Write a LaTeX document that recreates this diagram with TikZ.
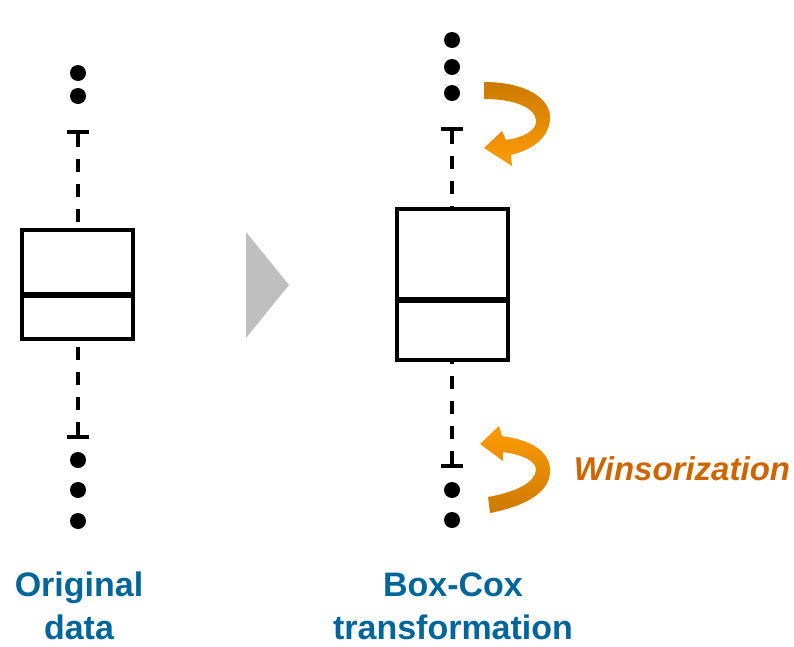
\documentclass[tikz,border=0pt]{standalone}
\usepackage{fontspec}
\setmainfont{Liberation Sans}
\definecolor{labelblue}{RGB}{0,102,153}
\definecolor{winsorange}{RGB}{204,102,0}
\definecolor{arrowdark}{RGB}{204,122,0}
\definecolor{arrowlight}{RGB}{255,156,0}
\begin{document}
\begin{tikzpicture}[
        x = 1pt, y = -1pt,
        boxline/.style = {line width = 4pt},
        median/.style = {line width = 6pt},
        whisker/.style = {line width = 3.5pt, dash pattern = on 13pt off 12pt},
        whiskercap/.style = {line width = 4pt},
        caption/.style = {text = labelblue, align = center, inner sep = 0pt,
            font = \fontsize{34}{43}\selectfont\bfseries}
    ]
        \useasboundingbox (0, 0) rectangle (794, 646);
        % original data
        \begin{scope}[shift={(78,0)}]
            \foreach \y in {73, 96, 460, 490, 521}
                \fill (0, \y) circle (8pt);
            \draw[whiskercap] (-11, 132) -- (11, 132);
            \draw[whisker] (0, 134) -- (0, 230);
            \draw[boxline] (-56, 230) rectangle (55, 339);
            \draw[median] (-56, 295) -- (55, 295);
            \draw[whisker] (0, 435) -- (0, 339);
            \draw[whiskercap] (-11, 437) -- (11, 437);
        \end{scope}
        \fill[gray!50] (246, 232) -- (289, 285) -- (246, 338) -- cycle;
        % after box-cox
        \begin{scope}[shift={(452,0)}]
            \foreach \y in {40, 67, 93, 490, 520}
                \fill (0, \y) circle (8pt);
            \draw[whiskercap] (-11, 129) -- (11, 129);
            \draw[whisker] (0, 131) -- (0, 209);
            \draw[boxline] (-55, 209) rectangle (56, 360);
            \draw[median] (-55, 300) -- (56, 300);
            \draw[whisker] (0, 464) -- (0, 360);
            \draw[whiskercap] (-11, 466) -- (11, 466);
        \end{scope}
        % winsorization arrows
        \shade[top color = arrowdark, bottom color = arrowlight]
            (484, 82) .. controls (525, 82) and (552, 98) .. (550, 120)
            .. controls (548, 140) and (530, 150) .. (511, 155)
            -- (512, 166) -- (484, 148) -- (502, 131) -- (506, 140)
            .. controls (525, 137) and (537, 130) .. (536, 120)
            .. controls (535, 108) and (515, 99) .. (484, 99) -- cycle;
        \shade[top color = arrowlight, bottom color = arrowdark]
            (490, 513) .. controls (530, 505) and (552, 490) .. (550, 468)
            .. controls (548, 450) and (530, 440) .. (502, 436)
            -- (499, 426) -- (480, 444) -- (503, 461) -- (503, 452)
            .. controls (525, 455) and (536, 462) .. (536, 470)
            .. controls (535, 483) and (515, 492) .. (488, 497) -- cycle;
        \node[text = winsorange, anchor = base,
            font = \fontsize{33}{40}\selectfont\bfseries\itshape]
            (wins) at (682, 480) {Winsorization};
        \node[caption] (orig) at (79, 606) {Original\\data};
        \node[caption] (boxcox) at (453, 606) {Box-Cox\\transformation};
\end{tikzpicture}
\end{document}
